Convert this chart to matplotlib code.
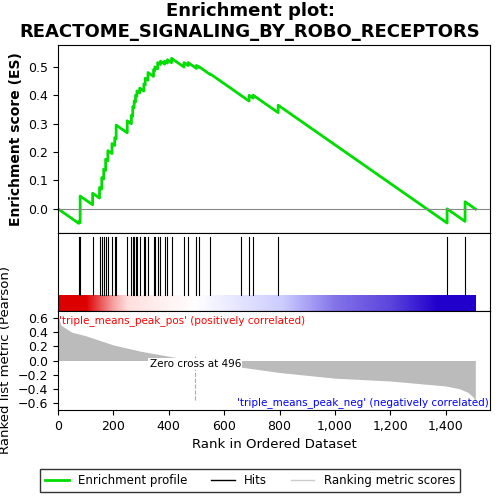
import numpy as np
import matplotlib
matplotlib.use("Agg")
import matplotlib.pyplot as plt
from matplotlib.colors import LinearSegmentedColormap

hit_ranks = [75, 80, 125, 150, 158, 165, 172, 180, 195, 205, 210, 250, 265, 270, 275, 280, 285, 295,
             310, 315, 325, 345, 350, 360, 370, 385, 395, 410, 455, 470, 500, 510, 550, 660, 690, 705,
             795, 1405, 1470]
hit_es = [-0.045, 0.045, 0.055, 0.075, 0.11, 0.14, 0.175, 0.205, 0.23, 0.25, 0.295, 0.31, 0.33, 0.36,
          0.38, 0.40, 0.415, 0.425, 0.44, 0.46, 0.48, 0.49, 0.50, 0.515, 0.52, 0.52, 0.525, 0.53,
          0.515, 0.515, 0.505, 0.50, 0.475, 0.40, 0.40, 0.40, 0.365, 0.0, 0.025]
n_total = 1508
decline = 0.00068

metric_ranks = [0, 10, 50, 100, 200, 300, 400, 496, 600, 800, 1000, 1200, 1400, 1450, 1480, 1500, 1508]
metric_vals = [0.65, 0.5, 0.4, 0.35, 0.22, 0.13, 0.06, 0.0, -0.06, -0.17, -0.25, -0.29, -0.36, -0.4,
               -0.45, -0.52, -0.6]

xs, ys = [0], [0.0]
prev_x, prev_y = 0, 0.0
for r, e in zip(hit_ranks, hit_es):
    xs.append(r); ys.append(prev_y - decline * (r - prev_x))
    xs.append(r); ys.append(e)
    prev_x, prev_y = r, e
xs.append(n_total); ys.append(prev_y - decline * (n_total - prev_x))

ranks = np.arange(n_total)
metric = np.interp(ranks, metric_ranks, metric_vals)

fig = plt.figure(figsize=(5, 5), dpi=100)
W, H = 500, 500
def ax_at(l, t, r, b):
    return fig.add_axes([l / W, 1 - b / H, (r - l) / W, (b - t) / H])

xmax = 1560
ax1 = ax_at(58, 45, 490, 233)
ax1.plot(xs, ys, color="#00dd00", lw=2)
ax1.axhline(0, color="#888888", lw=0.8)
ax1.set_xlim(0, xmax)
ax1.set_ylim(-0.085, 0.577)
ax1.set_xticks([])
ax1.set_yticks([0.0, 0.1, 0.2, 0.3, 0.4, 0.5])
ax1.set_ylabel("Enrichment score (ES)", fontsize=10, fontweight="bold")
ax1.tick_params(labelsize=9)
fig.suptitle("Enrichment plot:\nREACTOME_SIGNALING_BY_ROBO_RECEPTORS", fontsize=13, fontweight="bold", y=0.995)

ax2 = ax_at(58, 233, 490, 311)
for r in hit_ranks:
    ax2.axvline(r, ymin=0.2, ymax=0.95, color="black", lw=0.8)
cmap = LinearSegmentedColormap.from_list("rb", ["#2200cc", "#ccccff", "#ffffff", "#ffdddd", "#dd0000"])
ax2.imshow(metric[np.newaxis, :], aspect="auto", cmap=cmap, vmin=-0.35, vmax=0.35,
           extent=[0, n_total, 0, 0.2])
ax2.set_xlim(0, xmax)
ax2.set_ylim(0, 1)
ax2.set_xticks([]); ax2.set_yticks([])

ax3 = ax_at(58, 311, 490, 410)
ax3.fill_between(ranks, metric, 0, color="#bbbbbb", lw=0)
ax3.set_xlim(0, xmax)
ax3.set_ylim(-0.7, 0.7)
ax3.set_yticks([-0.6, -0.4, -0.2, 0.0, 0.2, 0.4, 0.6])
ax3.set_xticks([0, 200, 400, 600, 800, 1000, 1200, 1400])
ax3.set_xticklabels(["0", "200", "400", "600", "800", "1,000", "1,200", "1,400"])
ax3.tick_params(labelsize=9)
ax3.axvline(496, ymin=0.1, ymax=0.55, color="#aaaaaa", ls="--", lw=0.8)
ax3.text(496, -0.05, "Zero cross at 496", ha="center", va="center", fontsize=7.5,
         bbox=dict(facecolor="white", edgecolor="none", pad=1))
ax3.text(5, 0.57, "'triple_means_peak_pos' (positively correlated)", color="red", fontsize=7.5, va="center")
ax3.text(1555, -0.6, "'triple_means_peak_neg' (negatively correlated)", color="blue", fontsize=7.5,
         va="center", ha="right")
ax3.set_xlabel("Rank in Ordered Dataset", fontsize=9.5)
ax3.set_ylabel("Ranked list metric (Pearson)", fontsize=9.5)

from matplotlib.lines import Line2D
handles = [Line2D([], [], color="#00dd00", lw=2), Line2D([], [], color="black", lw=1),
           Line2D([], [], color="#cccccc", lw=1)]
fig.legend(handles, ["Enrichment profile", "Hits", "Ranking metric scores"], loc="lower center",
           ncol=3, fontsize=8.5, frameon=True, edgecolor="black", fancybox=False,
           bbox_to_anchor=(0.5, 0.005))
fig.savefig("out.png", dpi=100)
